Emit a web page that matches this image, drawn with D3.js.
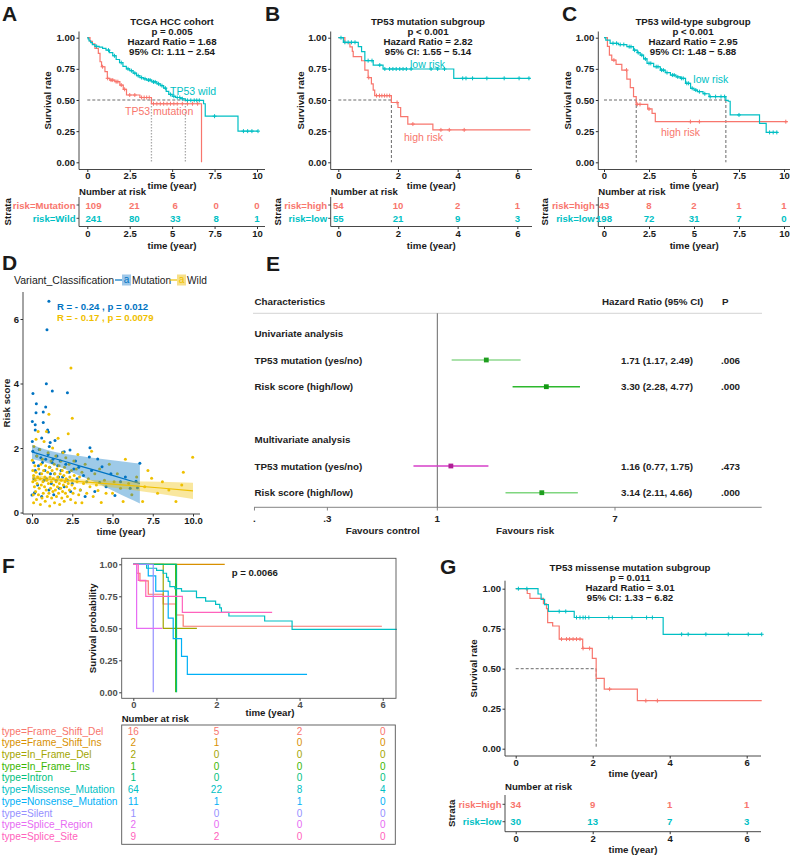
<!DOCTYPE html>
<html>
<head>
<meta charset="utf-8">
<script src="https://cdn.jsdelivr.net/npm/d3@7"></script>
<style>
  body { margin: 0; background: #fff; }
  svg { font-family: "Liberation Sans", Arial, Helvetica, sans-serif; }
</style>
</head>
<body>
<main></main>
<script>
// ---------- data ----------
const RED = "#F8766D", CYAN = "#00BFC4";
const survTicks = [0, 0.25, 0.5, 0.75, 1];

// A: TCGA HCC cohort  (step points [time, survival])
const aWild = [[0,1],[0.05,0.99],[0.1,0.975],[0.2,0.96],[0.3,0.945],[0.45,0.93],[0.7,0.925],[0.9,0.915],[1.1,0.9],[1.3,0.88],[1.5,0.855],[1.7,0.825],[1.9,0.8],[2.1,0.77],[2.3,0.75],[2.5,0.735],[2.7,0.715],[2.9,0.695],[3.1,0.68],[3.3,0.67],[3.5,0.66],[3.8,0.645],[4.1,0.63],[4.3,0.615],[4.5,0.595],[4.65,0.57],[4.8,0.545],[5.0,0.53],[5.2,0.52],[5.5,0.51],[5.78,0.497],[6.85,0.47],[6.95,0.37],[8.88,0.25],[10.06,0.25]];
const aMut = [[0,1],[0.16,0.97],[0.3,0.95],[0.45,0.914],[0.65,0.874],[0.75,0.807],[0.84,0.767],[1.04,0.727],[1.18,0.674],[1.33,0.66],[1.63,0.647],[1.92,0.62],[2.12,0.586],[2.31,0.54],[3.1,0.52],[3.78,0.47],[6.73,0]];
const aWildCens = [0.55,1.25,1.6,2.0,2.4,2.6,2.8,3.0,3.2,3.4,3.6,3.7,3.9,4.0,4.2,4.4,4.6,4.9,5.1,5.3,5.45,5.6,5.9,6.1,6.3,6.45,6.6,7.5,9.2,9.45,9.7,10.06];
const aMutCens = [0.9,1.2,1.4,1.5,1.7,1.8,2.0,2.2,2.5,2.8,3.2,3.35,3.5,3.65,3.9,4.1,4.3,4.5,4.7,4.9,5.1,5.3,5.6,5.9,6.2,6.5];
const aTimes = [0, 2.5, 5, 7.5, 10];
const aRiskMut = [109, 21, 6, 0, 0];
const aRiskWild = [241, 80, 33, 8, 1];

// B: TP53 mutation subgroup
const bLow = [[0,1],[0.17,0.963],[0.67,0.928],[0.78,0.888],[0.89,0.816],[1.17,0.78],[1.5,0.749],[3.87,0.674],[6.44,0.674]];
const bHigh = [[0,1],[0.22,0.96],[0.39,0.927],[0.47,0.89],[0.5,0.848],[0.78,0.815],[0.89,0.74],[1.0,0.68],[1.11,0.63],[1.17,0.58],[1.22,0.535],[1.78,0.48],[2.0,0.44],[2.09,0.366],[2.33,0.307],[3.17,0.26],[6.44,0.26]];
const bLowCens = [0.09,0.22,0.33,0.44,0.56,1.0,1.13,1.39,1.56,1.72,1.83,1.94,2.06,2.17,2.28,2.44,3.11,3.33,3.56,4.17,4.28,4.5,4.98,5.56,6.06,6.39];
const bHighCens = [1.02,1.28,1.38,1.46,1.55,1.63,1.72,1.97,2.5,3.44,3.72,4.22];
const bTimes = [0, 2, 4, 6];
const bRiskHigh = [54, 10, 2, 1];
const bRiskLow = [55, 21, 9, 3];

// C: TP53 wild-type subgroup
const cLow = [[0,1],[0.1,0.98],[0.34,0.955],[0.8,0.945],[1.27,0.928],[1.64,0.9],[1.85,0.88],[2.01,0.86],[2.2,0.83],[2.39,0.794],[2.76,0.767],[3.13,0.74],[3.4,0.72],[3.69,0.7],[4.0,0.685],[4.25,0.674],[4.53,0.634],[4.81,0.594],[5.0,0.58],[5.19,0.567],[5.5,0.55],[5.84,0.527],[6.77,0.497],[6.9,0.49],[7.01,0.38],[8.64,0.313],[9.01,0.24],[9.66,0.24]];
const cHigh = [[0,1],[0.19,0.93],[0.3,0.86],[0.43,0.82],[0.67,0.786],[0.99,0.74],[1.27,0.668],[1.46,0.6],[1.64,0.527],[1.79,0.465],[2.43,0.428],[2.67,0.393],[2.85,0.326],[10.2,0.326]];
const cLowCens = [0.5,0.7,0.9,1.1,1.4,1.5,1.7,1.9,2.1,2.3,2.5,2.6,2.9,3.0,3.2,3.3,3.5,3.8,3.9,4.1,4.3,4.4,4.6,4.7,4.9,5.1,5.3,5.6,5.9,6.2,6.5,6.7,7.5,9.2,9.4,9.6];
const cHighCens = [0.55,1.25,1.85,2.0,2.5,4.8,5.3,10.1];
const cTimes = [0, 2.5, 5, 7.5, 10];
const cRiskHigh = [43, 8, 2, 1, 1];
const cRiskLow = [198, 72, 31, 7, 0];

// D: risk score vs time  [time, risk score]
const dMutation = [[1.05,6.55],[0.93,5.67],[0.89,3.99],[1.26,3.77],[2.2,3.71],[0.06,3.69],[0.27,3.37],[0.85,3.27],[0.25,3.09],[0.7,3.12],[0.02,2.82],[0.2,2.72],[0.7,2.79],[0.2,2.56],[0.97,2.56],[1.02,2.5],[1.43,2.23],[0.02,2.2],[0.6,2.31],[1.13,2.17],[1.07,2.05],[3.6,2.01],[2.36,1.94],[2.0,1.88],[1.9,1.87],[3.56,1.72],[4.08,1.66],[6.7,1.53],[4.35,1.42],
  [0.05,1.9],[0.1,1.55],[0.12,1.05],[0.15,0.6],[0.2,1.3],[0.3,1.75],[0.35,0.85],[0.4,1.45],[0.45,1.95],[0.5,1.2],[0.55,1.7],[0.6,0.5],[0.65,1.55],[0.75,1.0],[0.8,1.3],[0.85,1.65],[0.9,1.05],[1.0,1.8],[1.05,0.7],[1.1,1.4],[1.15,1.2],[1.2,0.9],[1.25,1.55],[1.3,1.65],[1.35,0.55],[1.4,1.2],[1.5,1.0],[1.55,1.75],[1.6,1.45],[1.65,1.1],[1.7,0.75],[1.75,1.6],[1.8,1.3],[1.9,1.1],[2.0,0.8],[2.1,1.5],[2.2,1.0],[2.3,1.25],[2.4,0.65],[2.5,0.9],[2.6,1.35],[2.7,1.6],[2.8,1.05],[2.9,1.4],[3.0,0.7],[3.2,1.15],[3.3,0.5],[3.4,0.95],[3.7,1.3],[3.9,0.65],[4.2,0.93],[4.6,0.8],[4.9,1.2],[5.15,0.53],[5.5,0.95],[5.8,1.1],[6.1,0.75],[6.46,0.97],[6.55,0.77],[0.0,0.54],[0.18,0.63]];
const dWild = [[0.02,1.62],[0.05,1.3],[0.05,0.95],[0.08,0.55],[0.1,1.15],[0.1,0.3],[0.12,2.05],[0.15,0.8],[0.18,1.45],[0.2,1.0],[0.22,0.65],[0.25,1.25],[0.25,2.27],[0.28,0.4],[0.3,1.75],[0.32,0.9],[0.35,1.1],[0.38,2.51],[0.4,0.55],[0.42,1.35],[0.45,0.75],[0.48,1.95],[0.5,1.05],[0.52,0.25],[0.55,1.5],[0.58,0.85],[0.6,1.2],[0.62,0.45],[0.65,1.65],[0.68,0.95],[0.7,0.6],[0.72,1.3],[0.75,2.2],[0.78,0.8],[0.8,1.1],[0.82,0.35],[0.85,1.45],[0.88,0.7],[0.9,2.51],[0.92,1.0],[0.95,0.5],[0.98,1.25],[1.0,1.85],[1.02,0.9],[1.05,3.05],[1.05,0.6],[1.08,1.4],[1.1,0.2],[1.12,1.1],[1.15,0.75],[1.18,1.6],[1.2,0.95],[1.22,0.45],[1.25,1.3],[1.28,2.0],[1.3,0.65],[1.32,1.05],[1.35,0.85],[1.38,1.5],[1.4,0.3],[1.42,1.2],[1.45,0.7],[1.48,1.75],[1.5,0.95],[1.52,0.5],[1.55,1.35],[1.58,0.8],[1.6,1.1],[1.62,2.3],[1.65,0.6],[1.68,1.45],[1.7,0.9],[1.72,0.25],[1.75,1.2],[1.78,0.75],[1.8,1.6],[1.82,1.0],[1.85,0.45],[1.88,1.3],[1.9,0.65],[1.92,1.85],[1.95,0.85],[1.98,1.15],[2.0,0.35],[2.02,1.4],[2.05,0.95],[2.08,0.6],[2.1,1.7],[2.12,1.05],[2.15,0.8],[2.18,1.25],[2.2,0.5],[2.25,2.44],[2.25,0.9],[2.3,1.5],[2.32,0.7],[2.35,1.1],[2.4,0.4],[2.42,4.48],[2.45,1.3],[2.48,0.85],[2.5,2.92],[2.5,1.0],[2.55,0.6],[2.6,1.6],[2.62,1.15],[2.65,0.75],[2.7,0.3],[2.75,1.35],[2.8,0.95],[2.85,1.8],[2.9,0.55],[2.95,1.1],[3.0,0.7],[3.1,1.25],[3.1,0.3],[3.2,0.9],[3.3,1.5],[3.4,0.6],[3.5,1.05],[3.6,0.8],[3.7,1.9],[3.8,0.5],[3.9,1.2],[4.0,0.85],[4.1,0.68],[4.2,1.35],[4.3,0.31],[4.5,1.0],[4.6,0.6],[4.8,1.5],[5.0,0.6],[5.1,0.95],[5.3,1.2],[5.5,0.75],[5.66,0.34],[5.8,1.65],[6.0,0.9],[6.2,0.55],[6.5,1.1],[6.87,0.34],[7.0,0.8],[7.2,1.3],[7.43,1.06],[7.8,0.6],[8.1,0.95],[8.5,0.7],[8.94,0.34],[9.3,0.85],[9.4,1.25],[9.98,1.71]];
// fitted line with CI  [time, fit, lower, upper]
const dMutFit = [[0,1.88,1.66,2.10],[1,1.73,1.53,1.93],[2,1.59,1.36,1.82],[3,1.44,1.13,1.75],[4,1.30,0.92,1.68],[5,1.15,0.68,1.62],[6,1.00,0.44,1.56],[6.7,0.90,0.28,1.52]];
const dWildFit = [[0,1.07,0.98,1.16],[2,1.00,0.94,1.06],[4,0.92,0.84,1.00],[6,0.84,0.71,0.97],[8,0.76,0.57,0.95],[10,0.67,0.42,0.92]];
const dTimeTicks = [0, 2.5, 5, 7.5, 10];
const dScoreTicks = [0, 2, 4, 6];

// E: Cox regression forest plot
const forestLabels = ["TP53 mutation (yes/no)", "Risk score (high/low)", "TP53 mutation (yes/no)", "Risk score (high/low)"];
const forestHR = [1.71, 3.30, 1.16, 3.14];
const forestLo = [1.17, 2.28, 0.77, 2.11];
const forestHi = [2.49, 4.77, 1.75, 4.66];
const forestP = [".006", ".000", ".473", ".000"];
const forestTicks = [0.135, 0.3, 1, 7];
const forestTickLabels = [".", ".3", "1", "7"];

// F: TP53 mutation types
const fTypes = ["type=Frame_Shift_Del","type=Frame_Shift_Ins","type=In_Frame_Del","type=In_Frame_Ins","type=Intron","type=Missense_Mutation","type=Nonsense_Mutation","type=Silent","type=Splice_Region","type=Splice_Site"];
const fFrameShiftDel = [[0,1],[0.08,0.93],[0.16,0.87],[0.36,0.766],[0.72,0.69],[1.02,0.604],[1.2,0.516],[5.98,0.516]];
const fFrameShiftIns = [[0,1],[2.2,1]];
const fInFrameDel = [[0,1],[0.72,0.5],[1.53,0.5]];
const fInFrameIns = [[0,1],[1.02,0]];
const fIntron = [[0,1],[1.04,0]];
const fMissense = [[0,1],[0.32,0.969],[0.56,0.953],[0.72,0.93],[0.8,0.898],[0.84,0.867],[0.88,0.825],[1.0,0.81],[1.16,0.79],[1.52,0.74],[1.74,0.713],[1.98,0.687],[2.08,0.66],[2.12,0.625],[2.3,0.596],[3.16,0.557],[3.82,0.492],[6.34,0.492]];
const fNonsense = [[0,1],[0.36,0.909],[0.54,0.79],[0.84,0.58],[0.96,0.42],[1.16,0.28],[1.3,0.14],[4.18,0.14]];
const fSilent = [[0,1],[0.48,0]];
const fSpliceRegion = [[0,1],[0.08,0.5],[0.7,0.5]];
const fSpliceSite = [[0,1],[0.12,0.875],[0.3,0.75],[1.18,0.625],[3.34,0.625]];
const fTimes = [0, 2, 4, 6];
const fRisk = [[16,5,2,0],[2,1,0,0],[2,0,0,0],[1,0,0,0],[1,0,0,0],[64,22,8,4],[11,1,1,0],[1,0,0,0],[2,0,0,0],[9,2,0,0]];

// G: TP53 missense mutation subgroup
const gLow = [[0,1],[0.58,0.967],[0.66,0.933],[0.75,0.9],[0.85,0.858],[1.52,0.82],[3.83,0.715],[6.39,0.715]];
const gHigh = [[0,1],[0.3,0.97],[0.37,0.94],[0.72,0.906],[0.8,0.875],[0.83,0.788],[0.96,0.767],[1.13,0.685],[1.74,0.627],[1.99,0.565],[2.09,0.44],[2.3,0.372],[3.16,0.30],[6.39,0.30]];
const gLowCens = [0.07,0.29,1.13,1.3,1.58,1.67,1.75,1.81,1.9,2.42,2.51,3.02,3.4,3.55,4.31,4.48,4.94,5.52,6.04,6.39];
const gHighCens = [1.19,1.32,1.4,1.49,1.58,1.67,1.75,1.92,2.44,3.38,3.68];
const gTimes = [0, 2, 4, 6];
const gRiskHigh = [34, 9, 1, 1];
const gRiskLow = [30, 13, 7, 3];

// ---------- helpers ----------
const svg = d3.select("main").append("svg").attr("width", 794).attr("height", 856);

function txt(g, x, y, s, o = {}) {
  return g.append("text").attr("x", x).attr("y", y).text(s)
    .attr("font-size", o.size || 9.5)
    .attr("font-weight", o.weight || "bold")
    .attr("fill", o.color || "#1a1a1a")
    .attr("text-anchor", o.anchor || "start")
    .attr("dominant-baseline", "central");
}
function rtxt(g, x, y, s, size) {
  g.append("text").attr("transform", `translate(${x},${y}) rotate(-90)`)
    .attr("text-anchor", "middle").attr("dominant-baseline", "central")
    .attr("font-size", size).attr("font-weight", "bold").attr("fill", "#1a1a1a").text(s);
}
function seg(g, x1, y1, x2, y2, color = "#333", w = 0.9) {
  return g.append("line").attr("x1", x1).attr("y1", y1).attr("x2", x2).attr("y2", y2)
    .attr("stroke", color).attr("stroke-width", w);
}
function styleAxis(sel, size, color) {
  sel.attr("font-family", null).attr("font-size", null);
  sel.select(".domain").remove();
  sel.selectAll(".tick line").attr("stroke", "#333");
  sel.selectAll(".tick text").attr("font-size", size).attr("font-weight", "bold").attr("fill", color);
}
function plus(g, x, y, color) {
  seg(g, x - 2, y, x + 2, y, color, 1);
  seg(g, x, y - 2, x, y + 2, color, 1);
}

// ---------- Kaplan-Meier panel ----------
function drawKM(p) {
  const g = svg.append("g");
  const x = d3.scaleLinear().domain(p.xDom).range(p.xRange);
  const y = d3.scaleLinear().domain([0, 1]).range([p.yBot, p.yTop]);

  txt(g, p.lx, p.ly, p.letter, { size: 21 });
  p.title.forEach((s, i) => txt(g, p.tx, p.ty + i * 10.2, s, { anchor: "middle", size: 9.7 }));

  const ya = g.append("g").attr("transform", `translate(${p.axL},0)`)
    .call(d3.axisLeft(y).tickValues(survTicks).tickFormat(d3.format(".2f")).tickSize(2.5).tickPadding(1.5));
  styleAxis(ya, 9.5, "#1a1a1a");
  seg(g, p.axL, p.axT, p.axL, p.axB);
  const xa = g.append("g").attr("transform", `translate(0,${p.axB})`)
    .call(d3.axisBottom(x).tickValues(p.ticks).tickFormat(d3.format("~g")).tickSize(2.5).tickPadding(0.5));
  styleAxis(xa, 9.5, "#1a1a1a");
  seg(g, p.axL, p.axB, p.axR, p.axB);
  txt(g, (p.axL + p.axR) / 2, p.axB + p.xtDy, "time (year)", { anchor: "middle", size: 9.7 });
  rtxt(g, p.ylabX, (p.axT + p.axB) / 2, "Survival rate", 9.7);

  // median guides
  seg(g, x(0), y(0.5), x(p.median.h), y(0.5), "#444", 0.8).attr("stroke-dasharray", "3,2");
  p.median.v.forEach(t => {
    const l = seg(g, x(t), y(0.5), x(t), y(0), p.median.dot ? "#aaa" : "#444", p.median.dot ? 1.3 : 0.8);
    l.attr("stroke-dasharray", p.median.dot ? "1.5,1.5" : "3,2");
  });

  const line = d3.line().x(d => x(d[0])).y(d => y(d[1])).curve(d3.curveStepAfter);
  const bis = d3.bisector(d => d[0]).right;
  p.curves.forEach(c => {
    g.append("path").attr("d", line(c.data)).attr("fill", "none")
      .attr("stroke", c.color).attr("stroke-width", 1.2);
    c.cens.forEach(t => {
      const s = c.data[Math.max(0, bis(c.data, t) - 1)][1];
      plus(g, x(t), y(s), c.color);
    });
  });
  p.labels.forEach(l => txt(g, l.x, l.y, l.text, { size: 10.5, weight: "normal", color: l.color }));

  // number at risk table
  const tb = p.table;
  const xv = tb.valRange ? d3.scaleLinear().domain(p.xDom).range(tb.valRange) : x;
  txt(g, p.axL, tb.numY, "Number at risk", { size: 9.6 });
  seg(g, p.axL, tb.top, p.axL, tb.bot);
  seg(g, p.axL, tb.bot, p.axR, tb.bot);
  tb.rows.forEach((r, i) => {
    const yy = tb.rowY[i];
    seg(g, p.axL - 2.5, yy, p.axL, yy);
    txt(g, p.axL - 3.5, yy, r.label, { anchor: "end", size: 9.6, color: r.color });
    r.counts.forEach((n, j) => txt(g, xv(p.ticks[j]), yy, n, { anchor: "middle", size: 9.6, color: r.color }));
  });
  const ta = g.append("g").attr("transform", `translate(0,${tb.bot})`)
    .call(d3.axisBottom(x).tickValues(p.ticks).tickFormat(d3.format("~g")).tickSize(2.5).tickPadding(1));
  styleAxis(ta, 9.5, "#1a1a1a");
  txt(g, (p.axL + p.axR) / 2, tb.titleY, "time (year)", { anchor: "middle", size: 9.7 });
  rtxt(g, tb.strataX, (tb.top + tb.bot) / 2, "Strata", 9.7);
}

const topTable = (sx, rows, valRange) => ({ numY: 191, rowY: [205, 218.3], top: 197, bot: 226.5, titleY: 245, strataX: sx, rows, valRange });

drawKM({
  letter: "A", lx: 2, ly: 13,
  title: ["TCGA HCC cohort", "p = 0.005", "Hazard Ratio = 1.68", "95% CI: 1.11 − 2.54"], tx: 172, ty: 21,
  xDom: [0, 10], xRange: [87.3, 257], ticks: aTimes,
  axL: 79, axR: 265, axT: 31.5, axB: 169.5, yTop: 37.7, yBot: 162.3, ylabX: 47, xtDy: 16,
  median: { h: 5.78, v: [3.78, 5.78], dot: true },
  curves: [{ data: aMut, cens: aMutCens, color: RED }, { data: aWild, cens: aWildCens, color: CYAN }],
  labels: [{ text: "TP53 wild", x: 170, y: 91, color: CYAN }, { text: "TP53 mutation", x: 125, y: 111, color: RED }],
  table: topTable(7, [{ label: "risk=Mutation", counts: aRiskMut, color: RED }, { label: "risk=Wild", counts: aRiskWild, color: CYAN }], [93.5, 257])
});

drawKM({
  letter: "B", lx: 265, ly: 13,
  title: ["TP53 mutation subgroup", "p < 0.001", "Hazard Ratio = 2.82", "95% CI: 1.55 − 5.14"], tx: 428, ty: 21,
  xDom: [0, 6], xRange: [338.3, 517.3], ticks: bTimes,
  axL: 330.7, axR: 532, axT: 31.5, axB: 169.5, yTop: 37.7, yBot: 162.3, ylabX: 300, xtDy: 16,
  median: { h: 1.78, v: [1.78], dot: false },
  curves: [{ data: bHigh, cens: bHighCens, color: RED }, { data: bLow, cens: bLowCens, color: CYAN }],
  labels: [{ text: "low risk", x: 410, y: 64, color: CYAN }, { text: "high risk", x: 404, y: 137, color: RED }],
  table: topTable(277.5, [{ label: "risk=high", counts: bRiskHigh, color: RED }, { label: "risk=low", counts: bRiskLow, color: CYAN }])
});

drawKM({
  letter: "C", lx: 562, ly: 13,
  title: ["TP53 wild-type subgroup", "p < 0.001", "Hazard Ratio = 2.95", "95% CI: 1.48 − 5.88"], tx: 693, ty: 21,
  xDom: [0, 10], xRange: [604, 784], ticks: cTimes,
  axL: 598.3, axR: 790, axT: 31.5, axB: 169.5, yTop: 37.7, yBot: 162.3, ylabX: 567, xtDy: 16,
  median: { h: 6.77, v: [1.79, 6.77], dot: false },
  curves: [{ data: cHigh, cens: cHighCens, color: RED }, { data: cLow, cens: cLowCens, color: CYAN }],
  labels: [{ text: "low risk", x: 693.3, y: 79.3, color: CYAN }, { text: "high risk", x: 661, y: 131.7, color: RED }],
  table: topTable(544, [{ label: "risk=high", counts: cRiskHigh, color: RED }, { label: "risk=low", counts: cRiskLow, color: CYAN }])
});

drawKM({
  letter: "G", lx: 440, ly: 566.5,
  title: ["TP53 missense mutation subgroup", "p = 0.011", "Hazard Ratio = 3.01", "95% CI: 1.33 − 6.82"], tx: 630, ty: 567.3,
  xDom: [0, 6], xRange: [515.7, 746.7], ticks: gTimes,
  axL: 505, axR: 761, axT: 580.7, axB: 756, yTop: 588.7, yBot: 748.7, ylabX: 473.3, xtDy: 17.3,
  median: { h: 2.09, v: [2.09], dot: false },
  curves: [{ data: gHigh, cens: gHighCens, color: RED }, { data: gLow, cens: gLowCens, color: CYAN }],
  labels: [],
  table: { numY: 786.7, rowY: [804.3, 821.7], top: 795, bot: 831.7, titleY: 849.3, strataX: 451.7,
    rows: [{ label: "risk=high", counts: gRiskHigh, color: RED }, { label: "risk=low", counts: gRiskLow, color: CYAN }] }
});

// ---------- D: scatter ----------
(function () {
  const BLUE = "#0073C2", GOLD = "#EFC000";
  const g = svg.append("g");
  const x = d3.scaleLinear().domain([0, 10]).range([32, 193]);
  const y = d3.scaleLinear().domain([0, 6]).range([512.5, 319]);
  txt(g, 2, 262.5, "D", { size: 21 });

  // legend
  txt(g, 14, 280, "Variant_Classification", { size: 10.5, weight: "normal" });
  [[115, BLUE, "#9ec8ea", "Mutation"], [170, GOLD, "#f7e08a", "Wild"]].forEach(([kx, c, f, lab]) => {
    seg(g, kx, 280, kx + 16, 280, c, 1.2);
    g.append("rect").attr("x", kx + 7).attr("y", 274.5).attr("width", 9).attr("height", 11).attr("fill", f);
    txt(g, kx + 11.5, 279.5, "a", { size: 10, weight: "normal", color: c, anchor: "middle" });
    txt(g, kx + 17, 280, lab, { size: 10.2, weight: "normal" });
  });

  const ya = g.append("g").attr("transform", "translate(23,0)")
    .call(d3.axisLeft(y).tickValues(dScoreTicks).tickFormat(d3.format("d")).tickSize(2.5).tickPadding(1.5));
  styleAxis(ya, 9.5, "#1a1a1a");
  seg(g, 23, 292, 23, 514);
  const xa = g.append("g").attr("transform", "translate(0,514)")
    .call(d3.axisBottom(x).tickValues(dTimeTicks).tickFormat(d3.format(".1f")).tickSize(2.5).tickPadding(1));
  styleAxis(xa, 9.5, "#1a1a1a");
  seg(g, 23, 514, 200, 514);
  txt(g, 121, 531, "time (year)", { anchor: "middle", size: 9.7 });
  rtxt(g, 6.5, 403, "Risk score", 9.7);

  [[dMutation, BLUE], [dWild, GOLD]].forEach(([pts, c]) => {
    g.append("g").selectAll("circle").data(pts).join("circle")
      .attr("cx", d => x(d[0])).attr("cy", d => y(d[1])).attr("r", 1.5).attr("fill", c);
  });
  [[dMutFit, BLUE], [dWildFit, GOLD]].forEach(([fit, c]) => {
    g.append("path").attr("d", d3.area().x(d => x(d[0])).y0(d => y(d[2])).y1(d => y(d[3])).curve(d3.curveMonotoneX)(fit))
      .attr("fill", c).attr("fill-opacity", 0.38);
    g.append("path").attr("d", d3.line().x(d => x(d[0])).y(d => y(d[1]))(fit))
      .attr("fill", "none").attr("stroke", c).attr("stroke-width", 1.2);
  });
  txt(g, 57, 306, "R = - 0.24 , p = 0.012", { size: 9.6, color: BLUE });
  txt(g, 57, 317, "R = - 0.17 , p = 0.0079", { size: 9.6, color: GOLD });
})();

// ---------- E: forest plot ----------
(function () {
  const g = svg.append("g");
  const x = d3.scaleLog().domain([0.1343, 34.9]).range([254, 761.7]);
  const rowY = [360, 386.7, 466, 492.7];
  const lineCol = ["#8fd88f", "#2db82d", "#d63fc9", "#7fd67f"];
  const boxCol = ["#1e9e1e", "#129912", "#b01f96", "#1e9e1e"];
  const f2 = d3.format(".2f");
  const fs = 9.8, tc = "#222";
  txt(g, 266, 263.5, "E", { size: 21 });
  txt(g, 254.5, 301, "Characteristics", { size: fs, color: tc });
  txt(g, 602, 301, "Hazard Ratio (95% CI)", { size: fs, color: tc });
  txt(g, 722, 301, "P", { size: fs, color: tc });
  seg(g, 253, 313.3, 762, 313.3, "#c8c8c8", 0.8);
  seg(g, x(1), 313.3, x(1), 507.3, "#555", 0.9);
  txt(g, 254.5, 333.3, "Univariate analysis", { size: fs, color: tc });
  txt(g, 254.5, 439.3, "Multivariate analysis", { size: fs, color: tc });
  forestLabels.forEach((lab, i) => {
    const yy = rowY[i];
    txt(g, 254.5, yy, lab, { size: fs, color: tc });
    seg(g, x(forestLo[i]), yy, x(forestHi[i]), yy, lineCol[i], 1.5);
    g.append("rect").attr("x", x(forestHR[i]) - 2.4).attr("y", yy - 2.4).attr("width", 4.8).attr("height", 4.8).attr("fill", boxCol[i]);
    txt(g, 621, yy, `${f2(forestHR[i])} (${f2(forestLo[i])}, ${f2(forestHi[i])})`, { size: fs, color: tc });
    txt(g, 721, yy, forestP[i], { size: fs, color: tc });
  });
  seg(g, 254, 507.3, 761.7, 507.3, "#777", 0.9);
  forestTicks.forEach((t, i) => {
    seg(g, x(t), 507.3, x(t), 510.5, "#777", 0.9);
    txt(g, x(t), 518, forestTickLabels[i], { anchor: "middle", size: fs, color: tc });
  });
  txt(g, 345.7, 530, "Favours control", { size: fs, color: tc });
  txt(g, 496, 530, "Favours risk", { size: fs, color: tc });
})();

// ---------- F: mutation types ----------
(function () {
  const g = svg.append("g");
  const curves = [fFrameShiftDel, fFrameShiftIns, fInFrameDel, fInFrameIns, fIntron, fMissense, fNonsense, fSilent, fSpliceRegion, fSpliceSite];
  const colors = ["#F8766D", "#D89000", "#A3A500", "#39B600", "#00BF7D", "#00BFC4", "#00B0F6", "#9590FF", "#E76BF3", "#FF62BC"];
  const x = d3.scaleLinear().domain([0, 6]).range([133.3, 382.7]);
  const y = d3.scaleLinear().domain([0, 1]).range([692.3, 564.3]);
  txt(g, 2, 565, "F", { size: 21 });

  const ya = g.append("g").attr("transform", "translate(121.7,0)")
    .call(d3.axisLeft(y).tickValues(survTicks).tickFormat(d3.format(".2f")).tickSize(2.5).tickPadding(1.5));
  styleAxis(ya, 9.4, "#4d4d4d");
  const xa = g.append("g").attr("transform", "translate(0,698.3)")
    .call(d3.axisBottom(x).tickValues(fTimes).tickFormat(d3.format("d")).tickSize(2.5).tickPadding(1));
  styleAxis(xa, 9.4, "#4d4d4d");
  txt(g, 270, 712.5, "time (year)", { anchor: "middle", size: 9.7 });
  rtxt(g, 92, 628.3, "Survival probability", 9.7);

  const line = d3.line().x(d => x(d[0])).y(d => y(d[1])).curve(d3.curveStepAfter);
  curves.forEach((c, i) => g.append("path").attr("d", line(c)).attr("fill", "none")
    .attr("stroke", colors[i]).attr("stroke-width", 1.2));
  g.append("rect").attr("x", 121.7).attr("y", 558.3).attr("width", 274.3).attr("height", 140)
    .attr("fill", "none").attr("stroke", "#555").attr("stroke-width", 0.9);
  txt(g, 231.7, 572.7, "p = 0.0066", { size: 9.6 });

  // risk table
  txt(g, 121.7, 718.8, "Number at risk", { size: 9.6 });
  g.append("rect").attr("x", 121.7).attr("y", 725).attr("width", 273.6).attr("height", 119.3)
    .attr("fill", "none").attr("stroke", "#555").attr("stroke-width", 0.9);
  const ry = d3.scalePoint().domain(fTypes).range([731, 836.7]);
  fTypes.forEach((t, i) => {
    txt(g, 1.7, ry(t), t, { size: 10.2, weight: "normal", color: colors[i] });
    fRisk[i].forEach((n, j) => txt(g, x(fTimes[j]), ry(t), n, { anchor: "middle", size: 10, weight: "normal", color: colors[i] }));
  });
})();
</script>
</body>
</html>
